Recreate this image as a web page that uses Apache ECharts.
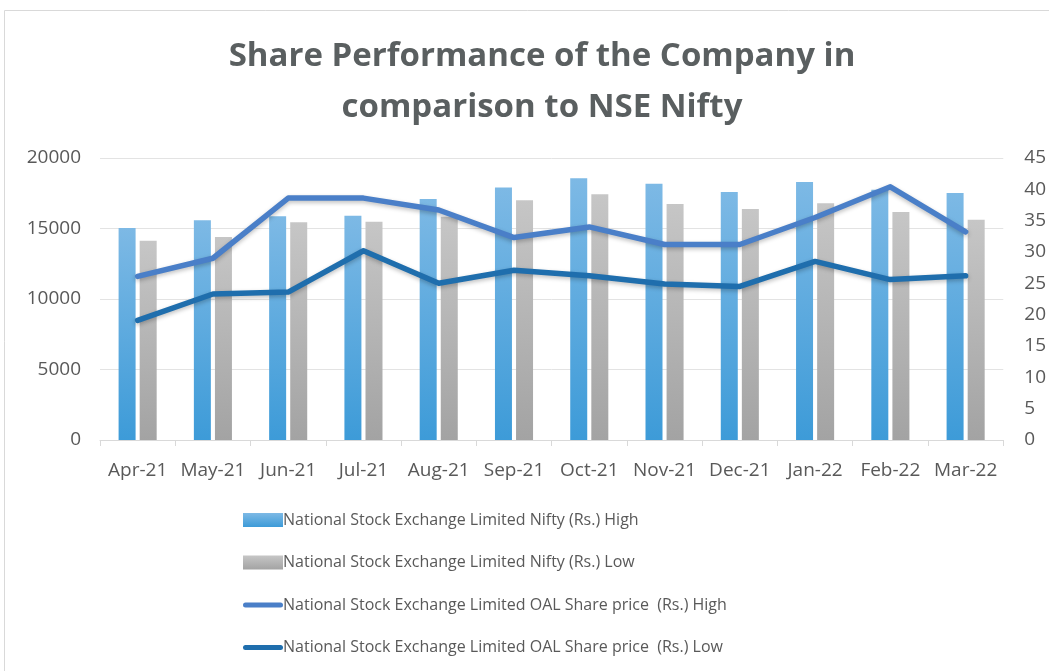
<!DOCTYPE html>
<html>
<head>
<meta charset="UTF-8">
<title>Share Performance</title>
<style>
  html, body {margin:0; padding:0; background:#fff;}
  #main {width:1049px; height:671px;}
</style>
<script src="https://cdn.jsdelivr.net/npm/echarts@6/dist/echarts.min.js"></script>
</head>
<body>
<div id="main"></div>
<script>
var months = ['Apr-21','May-21','Jun-21','Jul-21','Aug-21','Sep-21','Oct-21','Nov-21','Dec-21','Jan-22','Feb-22','Mar-22'];
var niftyHigh = [15030, 15580, 15860, 15910, 17090, 17900, 18560, 18180, 17590, 18300, 17750, 17520];
var niftyLow  = [14140, 14400, 15440, 15480, 15830, 17000, 17430, 16740, 16380, 16790, 16170, 15620];
var oalHigh = [26.1, 29.0, 38.6, 38.6, 36.7, 32.3, 34.0, 31.2, 31.2, 35.5, 40.4, 33.2];
var oalLow  = [19.1, 23.3, 23.6, 30.2, 25.0, 27.1, 26.2, 24.9, 24.5, 28.5, 25.6, 26.2];

var names = [
  'National Stock Exchange Limited Nifty (Rs.) High',
  'National Stock Exchange Limited Nifty (Rs.) Low',
  'National Stock Exchange Limited OAL Share price  (Rs.) High',
  'National Stock Exchange Limited OAL Share price  (Rs.) Low'
];

var txt = '#595959';
var font = 'Open Sans';
// flat rounded stroke for the line series legend icons
var lineIcon = 'path://M2.5,0 H37.5 A2.5,2.5 0 0 1 37.5,5 H2.5 A2.5,2.5 0 0 1 2.5,0 Z';

var chart = echarts.init(document.getElementById('main'));
chart.setOption({
  animation: false,
  textStyle: {fontFamily: font},
  graphic: [{
    type: 'rect',
    shape: {x: 4.5, y: 10.5, width: 1100, height: 700},
    style: {fill: null, stroke: '#d9d9d9', lineWidth: 1},
    silent: true, z: -1
  }],
  title: {
    text: 'Share Performance of the Company in\ncomparison to NSE Nifty',
    left: 537, top: 26,
    textAlign: 'center',
    textStyle: {fontSize: 33, fontWeight: 'bold', color: '#5a5f60', lineHeight: 51, fontFamily: font}
  },
  legend: {
    orient: 'vertical',
    left: 238, top: 507,
    itemGap: 26.5,
    itemWidth: 40, itemHeight: 14,
    textStyle: {fontSize: 16, color: txt, fontFamily: font, padding: [0, 0, 0, -5]},
    data: [
      {name: names[0], icon: 'rect'},
      {name: names[1], icon: 'rect'},
      {name: names[2], icon: lineIcon},
      {name: names[3], icon: lineIcon}
    ]
  },
  grid: {left: 100, right: 39, top: 158, bottom: 231},
  xAxis: {
    type: 'category',
    data: months,
    axisLine: {lineStyle: {color: '#d9d9d9', width: 1}},
    axisTick: {show: true, length: 6, lineStyle: {color: '#d9d9d9'}},
    axisLabel: {fontSize: 19, color: txt, margin: 21, interval: 0}
  },
  yAxis: [{
    type: 'value', min: 0, max: 20000, interval: 5000,
    axisLine: {show: false}, axisTick: {show: false},
    splitLine: {lineStyle: {color: '#e3e3e3', width: 1}},
    axisLabel: {fontSize: 19, color: txt, margin: 19, formatter: function (v) { return String(v); }}
  }, {
    type: 'value', min: 0, max: 45, interval: 5,
    position: 'right',
    axisLine: {show: false}, axisTick: {show: false},
    splitLine: {show: false},
    axisLabel: {fontSize: 19, color: txt, margin: 21, align: 'left'}
  }],
  series: [{
    name: names[0], type: 'bar', data: niftyHigh,
    barWidth: 17, barGap: '24%',
    itemStyle: {color: new echarts.graphic.LinearGradient(0, 0, 0, 1, [
      {offset: 0, color: '#7db9e5'}, {offset: 1, color: '#3d9bd8'}])}
  }, {
    name: names[1], type: 'bar', data: niftyLow,
    barWidth: 17,
    itemStyle: {color: new echarts.graphic.LinearGradient(0, 0, 0, 1, [
      {offset: 0, color: '#c6c6c6'}, {offset: 1, color: '#a3a3a3'}])}
  }, {
    name: names[2], type: 'line', yAxisIndex: 1, data: oalHigh,
    symbol: 'none', color: '#4a7fc8',
    lineStyle: {width: 5.5, color: '#4a7fc8', cap: 'round', join: 'round',
      shadowColor: 'rgba(0,0,0,0.25)', shadowBlur: 4, shadowOffsetY: 2}
  }, {
    name: names[3], type: 'line', yAxisIndex: 1, data: oalLow,
    symbol: 'none', color: '#1f6ead',
    lineStyle: {width: 5.5, color: '#1f6ead', cap: 'round', join: 'round',
      shadowColor: 'rgba(0,0,0,0.25)', shadowBlur: 4, shadowOffsetY: 2}
  }]
});
</script>
</body>
</html>
